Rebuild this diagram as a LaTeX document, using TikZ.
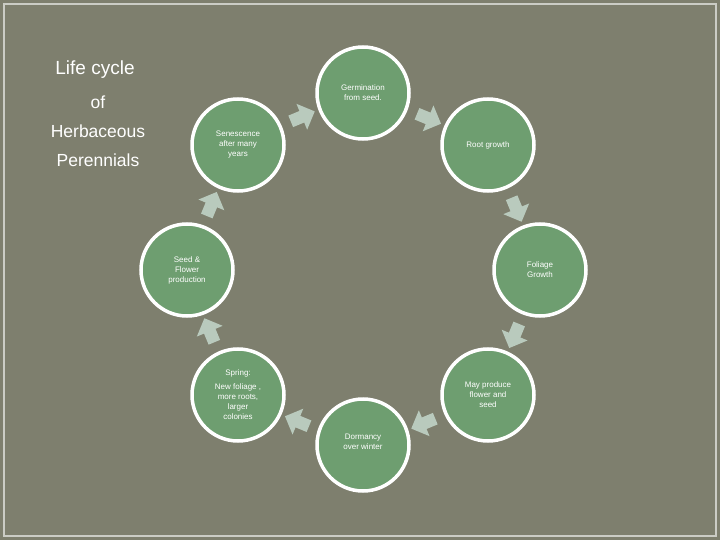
\documentclass[tikz,border=0pt]{standalone}
\usepackage{fontspec}
\setmainfont{Liberation Sans}
\usetikzlibrary{shapes.arrows}
\definecolor{bg}{HTML}{7E7F6E}
\definecolor{cg}{HTML}{6E9E70}
\definecolor{ag}{HTML}{B9CABD}
\begin{document}
\begin{tikzpicture}[x=1pt,y=-1pt,
 stage/.style={circle,fill=cg,draw=white,line width=3.5pt,minimum size=92pt,inner sep=0pt,align=center,text=white,font=\fontsize{8}{10}\selectfont},
 blk/.style={single arrow,fill=ag,minimum height=26pt,minimum width=28pt,single arrow head extend=4pt,inner sep=3pt}]
\fill[bg] (0,0) rectangle (720,540);
\draw[white!60!bg,line width=1.5pt] (4,4) rectangle (716,536);
\node[text=white,font=\fontsize{19}{22}\selectfont] (t1) at (95,70) {Life cycle};
\node[text=white,font=\fontsize{17.5}{29}\selectfont,align=center] (t2) at (98,131) {of\\Herbaceous\\Perennials};
\node[stage] (a) at (363,93) {Germination\\from seed.};
\node[stage] (b) at (488,145) {Root growth};
\node[stage] (c) at (540,270) {Foliage\\Growth};
\node[stage] (d) at (488,395) {May produce\\flower and\\seed};
\node[stage] (e) at (363,445) {\\[-14pt]Dormancy\\over winter};
\node[stage] (f) at (238,395) {Spring:\\[4pt]New foliage ,\\more roots,\\larger\\colonies};
\node[stage] (g) at (187,270) {Seed \&\\Flower\\production};
\node[stage] (h) at (238,145) {Senescence\\after many\\years};
\foreach \ang [count=\i] in {67.5,22.5,-22.5,-67.5,-112.5,-157.5,157.5,112.5}{
 \pgfmathsetmacro\rot{\ang-90}
 \node[blk,rotate=\rot] (ar\i) at ({363+165*cos(\ang)},{270-165*sin(\ang)}) {};
}
\end{tikzpicture}
\end{document}
